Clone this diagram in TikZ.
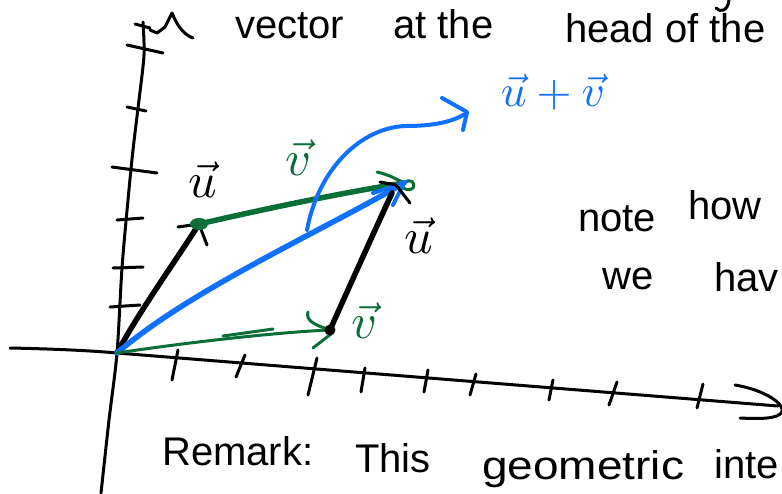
\documentclass[tikz,border=0pt]{standalone}
\usepackage{fontspec}
\setmainfont{Liberation Sans}
\definecolor{hblue}{RGB}{16,112,255}
\definecolor{hgreen}{RGB}{10,110,55}
\begin{document}
\begin{tikzpicture}[x=1pt,y=-1pt,
  pen/.style={line width=3pt,line cap=round,line join=round},
  thickpen/.style={line width=5.5pt,line cap=round,line join=round},
  hw/.style={font=\fontsize{40}{44}\selectfont,inner sep=0pt,anchor=base west},
  lab/.style={inner sep=0pt}]
\useasboundingbox (0,0) rectangle (782,493);
\clip (0,0) rectangle (782,493);
\fill[white] (0,0) rectangle (782,493);

% named points
\coordinate (O) at (117,353);
\coordinate (A) at (199,224);
\coordinate (B) at (330,330);
\coordinate (C) at (404,183);
\coordinate (XL) at (10,348);
\coordinate (XR) at (778,406);

% axes
\draw[pen] (XL) .. controls (60,349) and (95,351) .. (O) -- (XR);
\draw[pen] (735,385) .. controls (765,390) and (785,404) .. (782,412)
           .. controls (778,419) and (760,419) .. (740,418);
\foreach \a/\b/\c/\d in {178/350/172/380, 245/355/236/377, 317/358/308/395,
  365/368/361/392, 428/370/424/392, 476/374/470/395, 553/380/549/400,
  617/382/609/405, 703/384/697/408}
  \draw[pen] (\a,\b) -- (\c,\d);
\draw[pen] plot[smooth] coordinates {(101,493) (109,420) (O) (122,268) (128,200) (133,150) (139,100) (144,55) (143,22)};
\foreach \a/\b/\c/\d in {135/24/150/28, 127/45/163/53, 127/107/146/111,
  112/167/157/173, 117/220/143/218, 113/268/143/267, 110/307/140/305}
  \draw[pen] (\a,\b) -- (\c,\d);
\draw[pen] (150,30) -- (157,33) -- (165,27) -- (172,13) .. controls (178,28) and (185,35) .. (193,38);
\draw[pen] (729,0) .. controls (728,11) and (720,13) .. (716,8);

% black u from origin
\draw[thickpen] (O) .. controls (140,310) and (175,262) .. (A);
\draw[pen] (178,227) -- (A) -- (207,245);
% green v on top
\draw[thickpen,hgreen] (A) .. controls (260,210) and (340,193) .. (C);
\draw[pen,hgreen] (377,172) .. controls (390,175) and (398,180) .. (C)
   .. controls (410,178) and (416,182) .. (413,188) .. controls (410,191) and (404,190) .. (402,186);
\fill[hgreen] (A) ellipse (9pt and 6pt);
% blue u+v
\draw[thickpen,hblue] (O) .. controls (190,290) and (320,232) .. (C);
\draw[line width=4pt,line cap=round,hblue] (373,193) -- (C) -- (393,205);
% black u shifted
\draw[thickpen] (B) .. controls (350,285) and (375,230) .. (392,193);
\draw[pen] (380,182) -- (396,185) -- (410,203);
% green v from origin
\draw[pen,hgreen] (O) .. controls (190,342) and (280,332) .. (B);
\draw[pen,hgreen] (223,336) -- (273,329);
\draw[pen,hgreen] (308,312) .. controls (306,320) and (312,324) .. (B);
\draw[pen,hgreen] (313,348) -- (331,334);
\fill (B) circle (5.5pt);
% blue curved arrow
\draw[line width=4pt,line cap=round,hblue] (307,230) .. controls (318,170) and (360,128) .. (405,126)
  .. controls (440,126) and (455,120) .. (467,113);
\draw[line width=4pt,line cap=round,line join=round,hblue] (442,98) -- (467,112) -- (463,130);

% labels
\node[lab] (lu1) at (203,180) {\scalebox{5}{$\vec{u}$}};
\node[lab,hgreen] (lv1) at (299,158) {\scalebox{5}{$\vec{v}$}};
\node[lab] (lu2) at (419,236) {\scalebox{5}{$\vec{u}$}};
\node[lab,hgreen] (lv2) at (365,321) {\scalebox{5}{$\vec{v}$}};
\node[lab,hblue] (lsum) at (553,92) {\scalebox{4.5}{$\vec{u}+\vec{v}$}};

% texts
\node[hw] (t1) at (235,38) {vector};
\node[hw] (t2) at (393,38) {at the};
\node[hw] (t3) at (565,42) {head of the};
\node[hw] (t4) at (578,231) {note};
\node[hw] (t5) at (688,219) {how};
\node[hw] (t6) at (602,289) {we};
\node[hw] (t7) at (714,291) {hav};
\node[hw] (t8) at (162,465) {Remark:};
\node[hw] (t9) at (355,472) {This};
\node[hw] (t10) at (482,479) {\scalebox{1.15}[1]{geometric}};
\node[hw] (t11) at (714,478) {inte};
\end{tikzpicture}
\end{document}
